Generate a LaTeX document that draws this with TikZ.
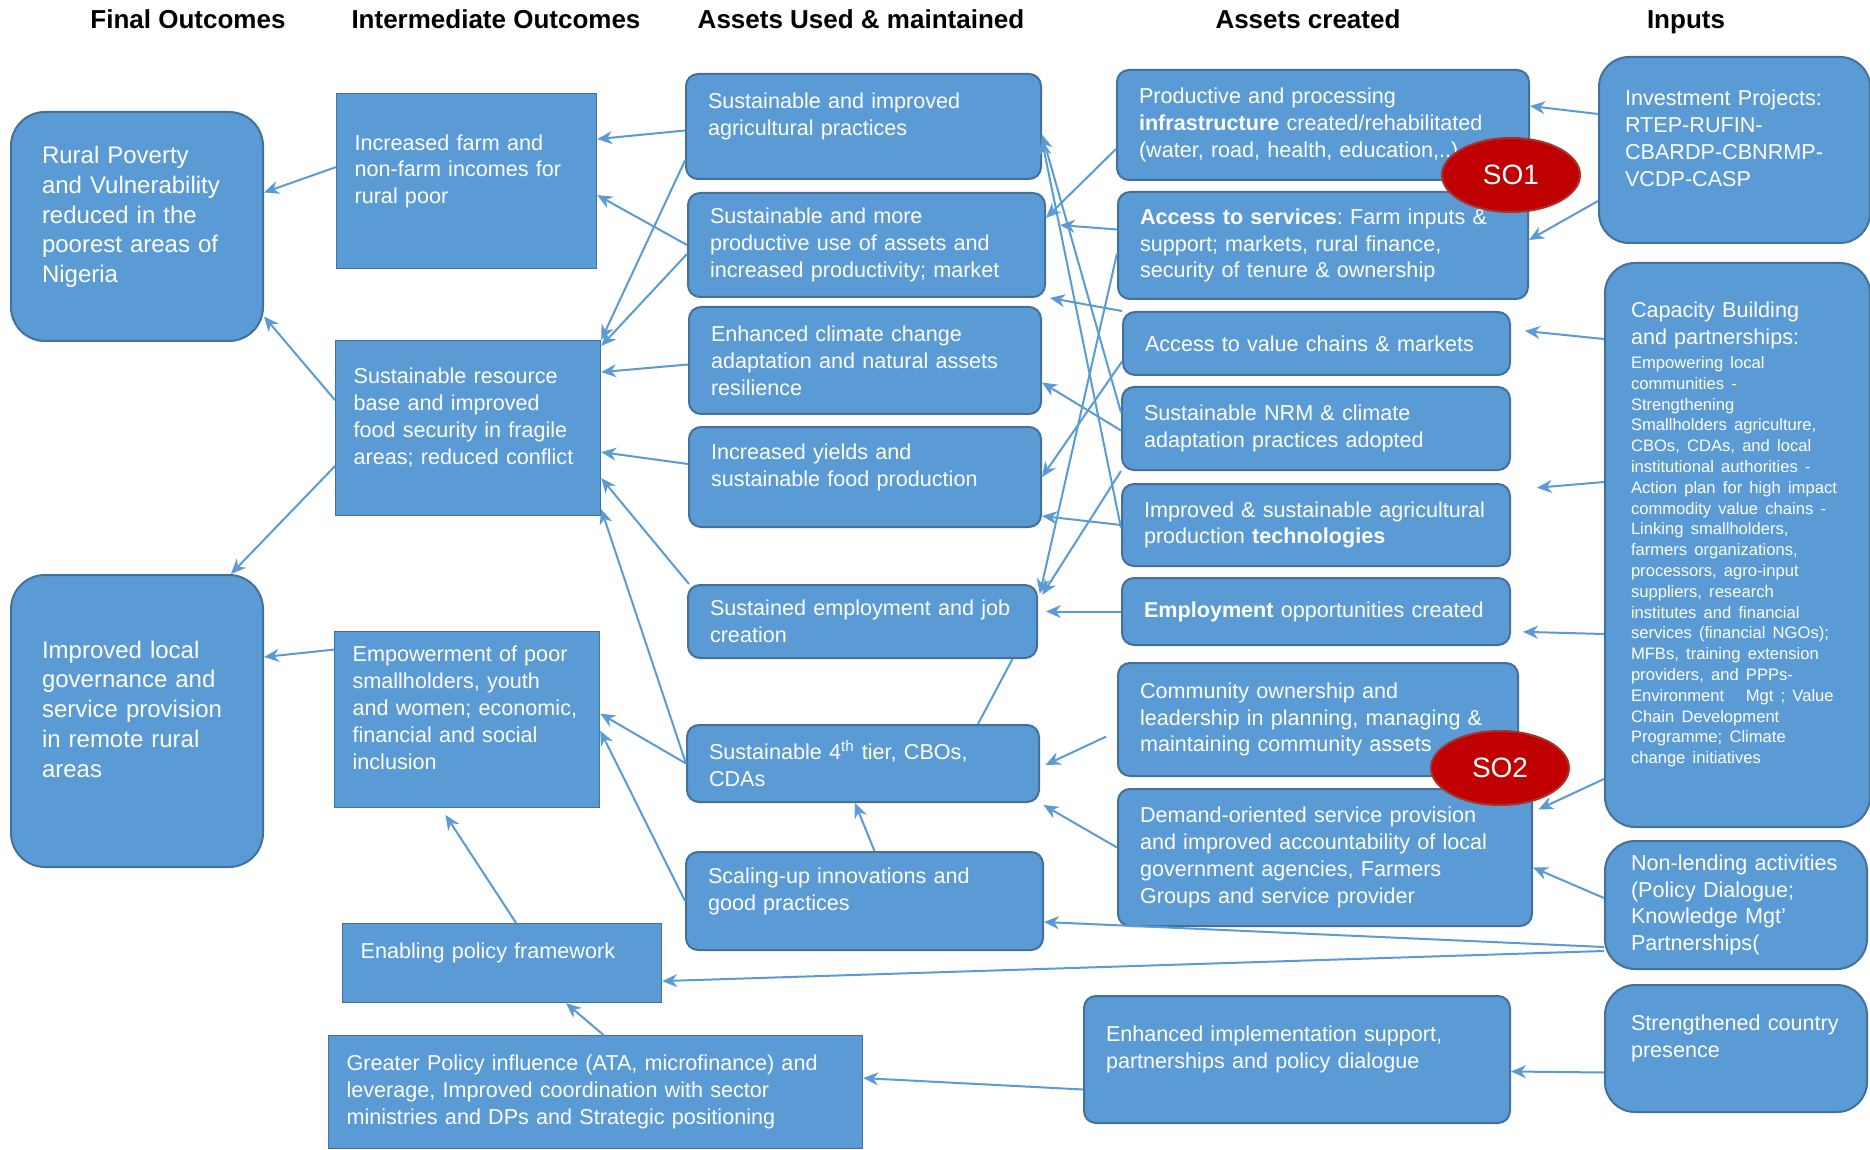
\documentclass[tikz,border=0pt]{standalone}
\usepackage{fontspec}
\setmainfont{Liberation Sans}
\usepackage{tikz}
\usetikzlibrary{shapes.geometric,arrows.meta}
\frenchspacing

\definecolor{boxblue}{RGB}{91,155,213}
\definecolor{boxedge}{RGB}{65,113,156}
\definecolor{soRed}{RGB}{192,0,0}
\definecolor{soEdge}{RGB}{170,50,40}

\begin{document}
\begin{tikzpicture}[x=0.5pt,y=-0.5pt]
    \tikzstyle{every node} = [font=\fontsize{10.8}{13.4}\selectfont, text=white]
    \tikzstyle{head} = [anchor=base, text=black, font=\fontsize{13}{15}\selectfont\bfseries]
    \tikzstyle{finalblock} = [draw=boxedge, fill=boxblue, line width=1pt, rounded corners=17pt, anchor=north west, align=left, inner xsep=15.5pt, font=\fontsize{12}{14.9}\selectfont]
    \tikzstyle{interblock} = [draw=boxedge, fill=boxblue, line width=0.6pt, anchor=north west, align=left, inner xsep=9pt]
    \tikzstyle{assetblock} = [draw=boxedge, fill=boxblue, line width=1pt, rounded corners=6pt, anchor=north west, align=left, inner xsep=11pt]
    \tikzstyle{inputblock} = [draw=boxedge, fill=boxblue, line width=1pt, rounded corners=15pt, anchor=north west, align=left, inner xsep=13pt]
    \tikzstyle{soblock} = [ellipse, draw=soEdge, fill=soRed, line width=1pt, minimum width=69pt, minimum height=37pt, inner sep=0pt, font=\fontsize{14}{16}\selectfont]
    \tikzstyle{liftup} = [execute at end node={\rule[-12pt]{0pt}{12pt}}]
    \tikzstyle{conn} = [-{Stealth[length=7.5pt,width=6.5pt]}, draw=boxblue, line width=1pt]

    \fill[white] (0,0) rectangle (1870,1150);
    \useasboundingbox (0,0) rectangle (1870,1150);

    % column heads
    \node[head] (hfinal) at (188,29) {Final Outcomes};
    \node[head] (hinter) at (496,29) {Intermediate Outcomes};
    \node[head] (hused) at (861,29) {Assets Used \& maintained};
    \node[head] (hcreated) at (1308,29) {Assets created};
    \node[head] (hinputs) at (1686,29) {Inputs};

    % final outcomes
    \node[finalblock, liftup, minimum width=126pt, minimum height=114.5pt, text width=95pt] (fo1) at (10,111) {Rural Poverty\\and Vulnerability\\reduced in the\\poorest areas of\\Nigeria};
    \node[finalblock, liftup, minimum width=126pt, minimum height=146pt, text width=95pt] (fo2) at (10,574) {Improved local\\governance and\\service provision\\in remote rural\\areas};

    % intermediate outcomes
    \node[interblock, liftup, minimum width=130pt, minimum height=87.5pt, text width=112pt] (io1) at (336,93) {Increased farm and\\non-farm incomes for\\rural poor};
    \node[interblock, liftup, minimum width=132.5pt, minimum height=87.5pt, text width=114.5pt] (io2) at (335,340) {Sustainable resource\\base and improved\\food security in fragile\\areas; reduced conflict};
    \node[interblock, liftup, minimum width=132.5pt, minimum height=88pt, text width=114.5pt] (io3) at (334,631) {Empowerment of poor\\smallholders, youth\\and women; economic,\\financial and social\\inclusion};
    \node[interblock, liftup, minimum width=159.5pt, minimum height=39.5pt, text width=141.5pt] (io4) at (342,923) {Enabling policy framework};
    \node[interblock, minimum width=267pt, minimum height=56.5pt, text width=249pt] (io5) at (328,1035) {Greater Policy influence (ATA, microfinance) and\\leverage, Improved coordination with sector\\ministries and DPs and Strategic positioning};

    % assets used and maintained
    \node[assetblock, liftup, minimum width=177.5pt, minimum height=52.5pt, text width=155.5pt] (a1) at (685,73) {Sustainable and improved\\agricultural practices};
    \node[assetblock, minimum width=178.5pt, minimum height=52pt, text width=156.5pt] (a2) at (687,192) {Sustainable and more\\productive use of assets and\\increased productivity; market};
    \node[assetblock, minimum width=176pt, minimum height=53.5pt, text width=154pt] (a3) at (688,306) {Enhanced climate change\\adaptation and natural assets\\resilience};
    \node[assetblock, liftup, minimum width=176pt, minimum height=50pt, text width=154pt] (a4) at (688,426) {Increased yields and\\sustainable food production};
    \node[assetblock, minimum width=174.5pt, minimum height=36.5pt, text width=152.5pt] (a5) at (687,584) {Sustained employment and job\\creation};
    \node[assetblock, minimum width=176pt, minimum height=38.5pt, text width=154pt] (a6) at (686,724) {Sustainable 4\textsuperscript{th} tier, CBOs,\\CDAs};
    \node[assetblock, liftup, minimum width=178.5pt, minimum height=49pt, text width=156.5pt] (a7) at (685,851) {Scaling-up innovations and\\good practices};

    % assets created
    \node[assetblock, minimum width=206pt, minimum height=55pt, text width=184pt] (c1) at (1116,69) {Productive and processing\\\textbf{infrastructure} created/rehabilitated\\(water, road, health, education,..)};
    \node[assetblock, minimum width=205pt, minimum height=53.5pt, text width=183pt] (c2) at (1117,191) {\textbf{Access to services}: Farm inputs \&\\support; markets, rural finance,\\security of tenure \& ownership};
    \node[assetblock, minimum width=193.5pt, minimum height=31.5pt, text width=171.5pt] (c3) at (1122,311) {Access to value chains \& markets};
    \node[assetblock, minimum width=194pt, minimum height=41.5pt, text width=172pt] (c4) at (1121,386) {Sustainable NRM \& climate\\adaptation practices adopted};
    \node[assetblock, minimum width=194pt, minimum height=41pt, text width=172pt] (c5) at (1121,483) {Improved \& sustainable agricultural\\production \textbf{technologies}};
    \node[assetblock, minimum width=194pt, minimum height=33.5pt, text width=172pt] (c6) at (1121,577) {\textbf{Employment} opportunities created};
    \node[assetblock, minimum width=200pt, minimum height=56.5pt, text width=178pt] (c7) at (1117,662) {Community ownership and\\leadership in planning, managing \&\\maintaining community assets};
    \node[assetblock, minimum width=207pt, minimum height=68.5pt, text width=185pt] (c8) at (1117,788) {Demand-oriented service provision\\and improved accountability of local\\government agencies, Farmers\\Groups and service provider};
    \node[assetblock, liftup, minimum width=213pt, minimum height=63.5pt, text width=191pt] (c9) at (1083,995) {Enhanced implementation support,\\partnerships and policy dialogue};

    % inputs
    \node[inputblock, liftup, minimum width=135.5pt, minimum height=93pt, text width=109.5pt] (i1) at (1598,56) {Investment Projects:\\RTEP-RUFIN-\\CBARDP-CBNRMP-\\VCDP-CASP};
    \node[inputblock, minimum width=132.5pt, minimum height=282pt, text width=106.5pt] (i2) at (1604,262) {Capacity Building\\and partnerships:\par\vspace{1.5pt}
      {\fontsize{8.3}{10.4}\selectfont\hyphenpenalty=10000 Empowering local\\communities -\\Strengthening\\Smallholders agriculture,\\CBOs, CDAs, and local\\institutional authorities -\\Action plan for high impact\\commodity value chains -\\Linking smallholders,\\farmers organizations,\\processors, agro-input\\suppliers, research\\institutes and financial\\services (financial NGOs);\\MFBs, training extension\\providers, and PPPs-\\Environment\ \ \ Mgt ; Value\\Chain Development\\Programme; Climate\\change initiatives\rule[-12pt]{0pt}{12pt}\par}};
    \node[inputblock, minimum width=131pt, minimum height=64pt, text width=105pt] (i3) at (1604,840) {Non-lending activities\\(Policy Dialogue;\\Knowledge Mgt'\\Partnerships(};
    \node[inputblock, liftup, minimum width=131pt, minimum height=63.5pt, text width=105pt] (i4) at (1604,984) {Strengthened country\\presence};

    % Connections
    \draw[conn] ([yshift=7pt]io1.west) -- ([yshift=17pt]fo1.east);
    \draw[conn] ([yshift=14pt]io2.west) -- ([yshift=-45pt]fo1.east);
    \draw[conn] ([yshift=-19pt]io2.west) -- ([xshift=47pt]fo2.north);
    \draw[conn] ([yshift=35pt]io3.west) -- ([yshift=32pt]fo2.east);

    \draw[conn] ([yshift=-2pt]a1.west) -- ([yshift=21pt]io1.east);
    \draw[conn] (a2.west) -- ([yshift=-7pt]io1.east);
    \draw[conn] ([yshift=-17pt]a1.west) -- (io2.north east);
    \draw[conn] ([yshift=-4.5pt]a2.west) -- ([yshift=-3pt]io2.north east);
    \draw[conn] ([yshift=-2pt]a3.west) -- ([yshift=28pt]io2.east);
    \draw[conn] ([yshift=6.5pt]a4.west) -- ([yshift=-12pt]io2.east);
    \draw[conn] ([xshift=1pt]a5.north west) -- ([yshift=-25pt]io2.east);
    \draw[conn] (a6.west) -- ([yshift=3.5pt]io2.south east);
    \draw[conn] (a6.west) -- ([yshift=3pt]io3.east);
    \draw[conn] (a7.west) -- ([yshift=-5.5pt]io3.east);
    \draw[conn, shorten >=4pt] ([xshift=7pt]io4.north) -- ([xshift=-13pt]io3.south);
    \draw[conn] ([xshift=4pt]io5.north) -- ([xshift=32pt]io4.south);

    \draw[conn] ([xshift=5pt]a7.north) -- ([xshift=-4pt]a6.south);
    \draw[draw=boxblue, line width=1pt] ([xshift=57.5pt]a6.north) -- ([xshift=75pt]a5.south);

    \draw[conn] ([yshift=-12pt]c1.west) -- ([yshift=13.5pt]a2.east);
    \draw[conn, shorten >=7pt] ([yshift=8pt]c2.west) -- ([yshift=10.5pt]a2.east);
    \draw[conn] (c3.north west) -- ([xshift=2pt]a2.south east);
    \draw[conn] ([yshift=-9pt]c3.west) -- (a4.east);
    \draw[conn] ([yshift=8pt]c4.west) -- ([yshift=-4pt]a1.east);
    \draw[conn] ([yshift=-1.5pt]c5.west) -- ([yshift=-7pt]a1.east);
    \draw[conn] ([yshift=-1pt]c4.west) -- ([yshift=-11pt]a3.east);
    \draw[conn, shorten >=4pt] (c4.south west) -- ([yshift=10pt]a5.east);
    \draw[conn, shorten >=4pt] ([yshift=-4pt]c2.west) -- ([yshift=10pt]a5.east);
    \draw[conn] (c5.west) -- ([yshift=-19.5pt]a4.east);
    \draw[conn, shorten >=4pt] (c6.west) -- ([yshift=5pt]a5.east);
    \draw[conn, shorten <=6pt, shorten >=3pt] ([yshift=-6pt]c7.west) -- ([yshift=-2pt]a6.east);
    \draw[conn, shorten >=2pt] ([yshift=5pt]c8.west) -- (a6.south east);

    \draw[conn] ([yshift=18pt]i1.west) -- ([yshift=9.5pt]c1.east);
    \draw[conn] ([yshift=-25.5pt]i1.west) -- ([yshift=2.75pt]c2.east);
    \draw[conn, shorten >=7pt] ([yshift=103pt]i2.west) -- ([yshift=7pt]c3.east);
    \draw[conn, shorten >=13pt] ([yshift=31.5pt]i2.west) -- ([yshift=17.5pt]c5.east);
    \draw[conn, shorten >=6pt] ([yshift=-44.5pt]i2.west) -- ([yshift=-10pt]c6.east);
    \draw[conn, shorten >=3pt] ([yshift=-117pt]i2.west) -- ([yshift=22.75pt]c8.east);
    \draw[conn] ([yshift=3.5pt]i3.west) -- ([yshift=-5pt]c8.east);
    \draw[conn] ([yshift=-21pt]i3.west) -- ([yshift=-10.5pt]a7.east);
    \draw[conn] ([yshift=-23pt]i3.west) -- ([yshift=-9pt]io4.east);
    \draw[conn] ([yshift=-12pt]i4.west) -- ([yshift=-6pt]c9.east);
    \draw[conn] ([yshift=-15pt]c9.west) -- ([yshift=7pt]io5.east);

    % strategic objectives
    \node[soblock] (so1) at (1511,175) {SO1};
    \node[soblock] (so2) at (1500,768) {SO2};
\end{tikzpicture}
\end{document}
